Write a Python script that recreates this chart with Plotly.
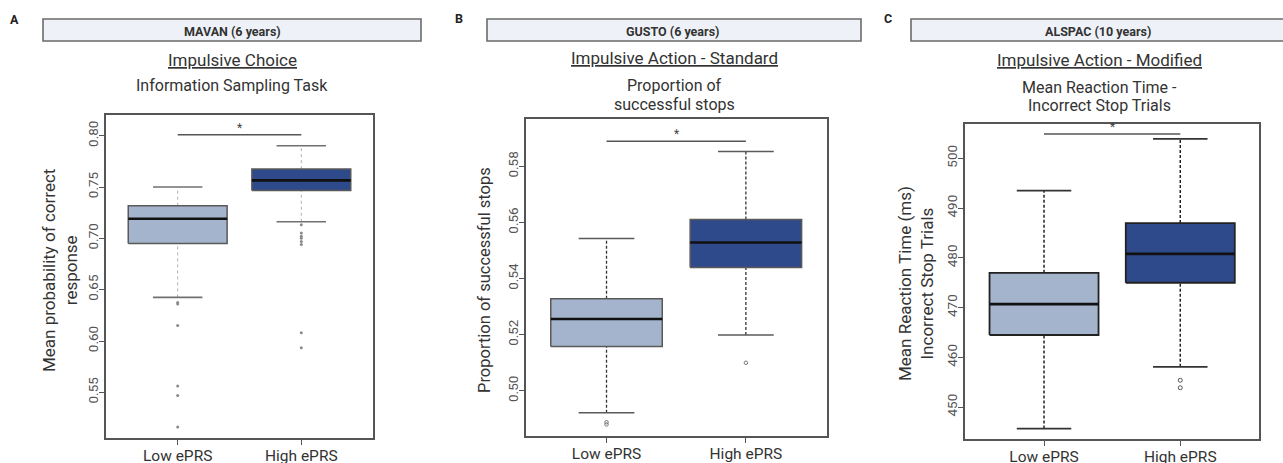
import plotly.graph_objects as go

W, H = 1283, 463

categories = ["Low ePRS", "High ePRS"]

# Panel A - MAVAN
a_q1 = [0.6951, 0.7467]
a_med = [0.7191, 0.7565]
a_q3 = [0.7318, 0.7675]
a_lo = [0.6425, 0.7162]
a_hi = [0.7500, 0.7903]
a_out_low = [0.6376, 0.6360, 0.6150, 0.5561, 0.5468, 0.5162]
a_out_high = [0.7133, 0.7052, 0.7020, 0.7000, 0.6970, 0.6940, 0.6080, 0.5934]
a_sig = 0.801
a_ticks = [0.55, 0.60, 0.65, 0.70, 0.75, 0.80]

# Panel B - GUSTO
b_q1 = [0.5158, 0.5440]
b_med = [0.5256, 0.5529]
b_q3 = [0.5328, 0.5611]
b_lo = [0.4922, 0.5199]
b_hi = [0.5543, 0.5853]
b_out_low = [0.4888, 0.4880]
b_out_high = [0.5100]
b_sig = 0.589
b_ticks = [0.50, 0.52, 0.54, 0.56, 0.58]

# Panel C - ALSPAC
c_q1 = [464.5, 475.0]
c_med = [470.7, 480.8]
c_q3 = [477.0, 487.0]
c_lo = [445.7, 458.1]
c_hi = [493.5, 503.9]
c_out_low = []
c_out_high = [455.4, 453.9]
c_sig = 504.9
c_ticks = [450, 460, 470, 480, 490, 500]

fill_colors = ["#a3b4cc", "#2f4a8b"]
FONT = "Roboto"

fig = go.Figure()

def px_x(p):
    return p / W

def px_y(p):
    return 1 - p / H

panels = [
    dict(key="", q1=a_q1, med=a_med, q3=a_q3, lo=a_lo, hi=a_hi,
         out=[a_out_low, a_out_high], sig=a_sig, ticks=a_ticks, fmt=".2f",
         yrange=[0.5055, 0.8202], dom_x=[106, 373], dom_y=[115, 438],
         whisk=dict(color="#b0b0b0", width=1, dash="dot"),
         cap=dict(color="#707070", width=1.6), border=dict(color="#5a5a5a", width=1.5),
         outmark=dict(size=3, color="#8a8a8a", symbol="circle"),
         letter="A", letter_xy=(14, 19), header="MAVAN (6 years)", header_x=(43, 421), header_cx=232,
         title="Impulsive Choice", title_cx=232, title_y=[60, 86],
         sub=["Information Sampling Task"],
         ytitle="Mean probability of correct<br>response", ytitle_xy=(60, 271), ytitle_size=17),
    dict(key="2", q1=b_q1, med=b_med, q3=b_q3, lo=b_lo, hi=b_hi,
         out=[b_out_low, b_out_high], sig=b_sig, ticks=b_ticks, fmt=".2f",
         yrange=[0.484, 0.5968], dom_x=[525.7, 826.7], dom_y=[119.3, 435.7],
         whisk=dict(color="#333333", width=1.3, dash="3px,2px"),
         cap=dict(color="#5a5a5a", width=1.6), border=dict(color="#5a5a5a", width=1.5),
         outmark=dict(size=3.5, color="#777777", symbol="circle-open", line=dict(width=1, color="#777777")),
         letter="B", letter_xy=(459, 18), header="GUSTO (6 years)", header_x=(487, 861), header_cx=672,
         title="Impulsive Action - Standard", title_cx=674, title_y=[58, 86],
         sub=["Proportion of", "successful stops"],
         ytitle="Proportion of successful stops", ytitle_xy=(484, 280), ytitle_size=16.5),
    dict(key="3", q1=c_q1, med=c_med, q3=c_q3, lo=c_lo, hi=c_hi,
         out=[c_out_low, c_out_high], sig=c_sig, ticks=c_ticks, fmt="d",
         yrange=[443.6, 506.9], dom_x=[965, 1259.3], dom_y=[124, 439],
         whisk=dict(color="#222222", width=1.5, dash="3px,2px"),
         cap=dict(color="#333333", width=1.8), border=dict(color="#222222", width=1.8),
         outmark=dict(size=4, color="#555555", symbol="circle-open", line=dict(width=1, color="#555555")),
         letter="C", letter_xy=(888, 18), header="ALSPAC (10 years)", header_x=(911, 1290), header_cx=1098,
         title="Impulsive Action - Modified", title_cx=1099, title_y=[60, 87],
         sub=["Mean Reaction Time -", "Incorrect Stop Trials"],
         ytitle="Mean Reaction Time (ms)<br>Incorrect Stop Trials", ytitle_xy=(916, 284), ytitle_size=17),
]

pos = list(range(1, len(categories) + 1))
BW = 0.4
CW = 0.2

annotations = []
shapes = []

def note(x, y, text, size, color="#333333", angle=0, xref="paper", yref="paper", **kw):
    d = dict(x=x, y=y, xref=xref, yref=yref, text=text, showarrow=False,
             xanchor="center", yanchor="middle", textangle=angle,
             font=dict(family=FONT, size=size, color=color))
    d.update(kw)
    annotations.append(d)

for p in panels:
    xa = "x" + p["key"]
    ya = "y" + p["key"]
    for i, c in enumerate(pos):
        fig.add_trace(go.Scatter(x=[c, c], y=[p["q3"][i], p["hi"][i]], mode="lines",
                                 line=p["whisk"], xaxis=xa, yaxis=ya, showlegend=False, hoverinfo="skip"))
        fig.add_trace(go.Scatter(x=[c, c], y=[p["lo"][i], p["q1"][i]], mode="lines",
                                 line=p["whisk"], xaxis=xa, yaxis=ya, showlegend=False, hoverinfo="skip"))
        for v in (p["hi"][i], p["lo"][i]):
            fig.add_trace(go.Scatter(x=[c - CW, c + CW], y=[v, v], mode="lines",
                                     line=p["cap"], xaxis=xa, yaxis=ya, showlegend=False, hoverinfo="skip"))
        fig.add_trace(go.Scatter(x=[c - BW, c + BW, c + BW, c - BW, c - BW],
                                 y=[p["q1"][i], p["q1"][i], p["q3"][i], p["q3"][i], p["q1"][i]],
                                 mode="lines", fill="toself", fillcolor=fill_colors[i],
                                 line=p["border"], xaxis=xa, yaxis=ya, showlegend=False, hoverinfo="skip"))
        fig.add_trace(go.Scatter(x=[c - BW, c + BW], y=[p["med"][i], p["med"][i]], mode="lines",
                                 line=dict(color="#111111", width=2.6), xaxis=xa, yaxis=ya,
                                 showlegend=False, hoverinfo="skip"))
        if p["out"][i]:
            fig.add_trace(go.Scatter(x=[c] * len(p["out"][i]), y=p["out"][i], mode="markers",
                                     marker=p["outmark"], xaxis=xa, yaxis=ya, showlegend=False,
                                     hoverinfo="skip"))
    fig.add_trace(go.Scatter(x=[pos[0], pos[1]], y=[p["sig"], p["sig"]], mode="lines",
                             line=dict(color="#555555", width=1.6), xaxis=xa, yaxis=ya,
                             showlegend=False, hoverinfo="skip"))
    note((pos[0] + pos[1]) / 2, p["sig"], "*", 12, "#444444", xref=xa, yref=ya,
         yanchor="bottom", yshift=-2)

    dx = [px_x(p["dom_x"][0]), px_x(p["dom_x"][1])]
    dy = [px_y(p["dom_y"][1]), px_y(p["dom_y"][0])]
    axis_common = dict(showline=True, mirror=True, linecolor="#555555", linewidth=1.6,
                       showgrid=False, zeroline=False, ticks="outside", ticklen=5,
                       tickcolor="#555555", tickwidth=1.3, automargin=False)
    fig.update_layout(**{
        ("xaxis" + p["key"]): dict(domain=dx, range=[0.42, 2.58], tickvals=pos, ticktext=categories,
                                   tickfont=dict(family=FONT, size=15.5, color="#333333"),
                                   ticklabelstandoff=-2, anchor=ya, **axis_common),
        ("yaxis" + p["key"]): dict(domain=dy, range=p["yrange"], tickvals=p["ticks"],
                                   tickformat=p["fmt"], tickangle=-90,
                                   tickfont=dict(family=FONT, size=13.5, color="#555555"),
                                   ticklabelstandoff=-4, anchor=xa, **axis_common),
    })

    shapes.append(dict(type="rect", xref="paper", yref="paper",
                       x0=px_x(p["header_x"][0]), x1=px_x(p["header_x"][1]),
                       y0=px_y(41), y1=px_y(19), fillcolor="#eef2f8",
                       line=dict(color="#6a6a6a", width=1.6), layer="below"))
    note(px_x(p["header_cx"]), px_y(31), "<b>" + p["header"] + "</b>", 12.5)
    note(px_x(p["letter_xy"][0]), px_y(p["letter_xy"][1]), "<b>" + p["letter"] + "</b>", 12.5, "#222222")
    note(px_x(p["title_cx"]), px_y(p["title_y"][0]), "<u>" + p["title"] + "</u>", 17)
    for j, s in enumerate(p["sub"]):
        note(px_x(p["title_cx"]), px_y(p["title_y"][1] + 18 * j), s, 16)
    note(px_x(p["ytitle_xy"][0]), px_y(p["ytitle_xy"][1]), p["ytitle"], p["ytitle_size"], angle=-90)

fig.update_layout(width=W, height=H, margin=dict(l=0, r=0, t=0, b=0, autoexpand=False),
                  paper_bgcolor="white", plot_bgcolor="white",
                  annotations=annotations, shapes=shapes, showlegend=False)

fig.write_html("out.html", config={"displayModeBar": False},
               post_script="document.body.style.margin='0';document.body.style.overflow='hidden';")
